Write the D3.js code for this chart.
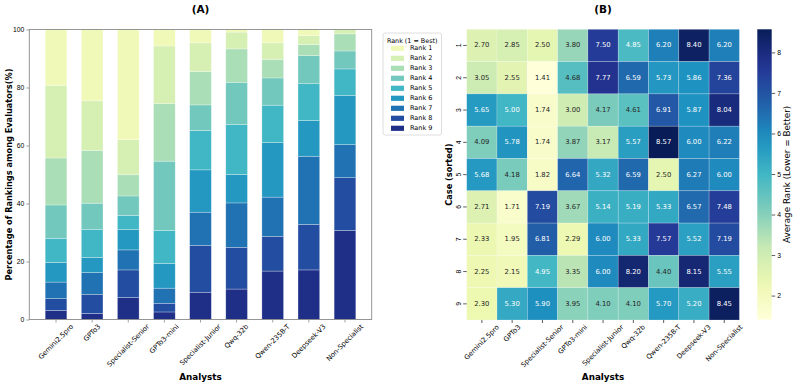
<!DOCTYPE html>
<html>
<head>
<meta charset="utf-8">
<script src="https://cdn.jsdelivr.net/npm/d3@7"></script>
<style>
  html, body { margin: 0; padding: 0; background: #fff; }
  svg { display: block; font-family: "DejaVu Sans", sans-serif; }
</style>
</head>
<body>
<svg id="chart" width="793" height="385"></svg>
<script>
// data
var analysts = ["Gemini2.5pro", "GPTo3", "Specialist-Senior", "GPTo3-mini", "Specialist-Junior",
                "Qwq-32b", "Qwen-235B-T", "Deepseek-V3", "Non-Specialist"];
var ranks = ["Rank 1", "Rank 2", "Rank 3", "Rank 4", "Rank 5", "Rank 6", "Rank 7", "Rank 8", "Rank 9"];
var cases = ["1", "2", "3", "4", "5", "6", "7", "8", "9"];

// (A) share (%) of each rank per analyst, Rank 1 .. Rank 9
var rankShares = [
  [19.3, 25.0, 16.2, 11.5,  8.3,  6.8,  5.7,  4.1,  3.1],
  [24.6, 17.1, 18.2,  9.0,  9.7,  5.2,  7.5,  6.6,  2.1],
  [38.0, 12.1,  7.3,  6.7,  4.9,  7.0,  6.9,  9.5,  7.6],
  [ 5.7, 19.9, 19.8, 23.9, 11.4,  8.5,  5.2,  3.0,  2.6],
  [ 4.6,  9.9, 11.5,  8.8, 13.6, 14.6, 11.4, 16.2,  9.4],
  [ 0.9,  5.8, 11.5, 14.6, 17.2,  9.8, 15.3, 14.4, 10.5],
  [ 4.6,  5.7,  6.4,  9.4, 12.9, 18.8, 13.5, 12.0, 16.7],
  [ 2.1,  3.1,  3.8,  9.7, 12.7, 12.3, 23.5, 15.7, 17.1],
  [ 0.0,  1.5,  5.9,  6.2,  9.2, 16.9, 11.4, 18.2, 30.7]
];
var pctTicks = [0, 20, 40, 60, 80, 100];

// (B) average rank, rows = case, cols = analyst
var avgRank = [
  [2.70, 2.85, 2.50, 3.80, 7.50, 4.85, 6.20, 8.40, 6.20],
  [3.05, 2.55, 1.41, 4.68, 7.77, 6.59, 5.73, 5.86, 7.36],
  [5.65, 5.00, 1.74, 3.00, 4.17, 4.61, 6.91, 5.87, 8.04],
  [4.09, 5.78, 1.74, 3.87, 3.17, 5.57, 8.57, 6.00, 6.22],
  [5.68, 4.18, 1.82, 6.64, 5.32, 6.59, 2.50, 6.27, 6.00],
  [2.71, 1.71, 7.19, 3.67, 5.14, 5.19, 5.33, 6.57, 7.48],
  [2.33, 1.95, 6.81, 2.29, 6.00, 5.33, 7.57, 5.52, 7.19],
  [2.25, 2.15, 4.95, 3.35, 6.00, 8.20, 4.40, 8.15, 5.55],
  [2.30, 5.30, 5.90, 3.95, 4.10, 4.10, 5.70, 5.20, 8.45]
];
var cbarTicks = [2, 3, 4, 5, 6, 7, 8];

(function () {
  "use strict";
  var svg = d3.select("#chart");
  var TICK_FS = 6.8, LABEL_FS = 8.8;
  var ylgnbu = d3.piecewise(d3.interpolateRgb, d3.schemeYlGnBu[9]);

  // label under a tick, rotated 45deg, bbox centred on the tick (matplotlib ha=center)
  function diagLabel(g, cx, top, txt) {
    var t = g.append("text").attr("font-size", TICK_FS).attr("fill", "#000")
      .attr("text-anchor", "middle").attr("dominant-baseline", "central").text(txt);
    var L = t.node().getComputedTextLength(), h = TICK_FS * 1.1;
    var half = (L + h) * Math.SQRT1_2 / 2;
    t.attr("transform", "translate(" + cx + "," + (top + half) + ") rotate(-45)");
  }

  // ---------- (A) stacked bars ----------
  var A = { l: 29.3, r: 371.7, t: 29.5, b: 319.5 };
  var x = d3.scaleBand().domain(analysts).range([A.l, A.r]).paddingInner(0.4).paddingOuter(0.44);
  var y = d3.scaleLinear().domain([0, 100]).range([A.b, A.t]);
  var rankColor = d3.scaleOrdinal().domain(ranks)
    .range(ranks.map(function (r, i) { return ylgnbu(0.1 + 0.1 * i); }));

  var rows = analysts.map(function (a, i) {
    var o = { analyst: a };
    ranks.forEach(function (r, k) { o[r] = rankShares[i][k]; });
    return o;
  });
  var stacked = d3.stack().keys(ranks.slice().reverse())(rows);   // Rank 9 at the bottom

  var gA = svg.append("g");
  gA.selectAll("g.layer").data(stacked).enter().append("g").attr("class", "layer")
    .attr("fill", function (s) { return rankColor(s.key); })
    .selectAll("rect").data(function (s) { return s; }).enter().append("rect")
    .attr("x", function (d) { return x(d.data.analyst); })
    .attr("width", x.bandwidth())
    .attr("y", function (d) { return y(d[1]); })
    .attr("height", function (d) { return Math.max(0, y(d[0]) - y(d[1])); })
    .attr("stroke", "#fff").attr("stroke-opacity", 0.45).attr("stroke-width", 0.6);

  gA.append("rect").attr("x", A.l).attr("y", A.t).attr("width", A.r - A.l).attr("height", A.b - A.t)
    .attr("fill", "none").attr("stroke", "#8a8a8a").attr("stroke-width", 0.9);

  var yAx = gA.append("g").attr("transform", "translate(" + A.l + ",0)")
    .call(d3.axisLeft(y).tickValues(pctTicks).tickSize(3).tickPadding(2));
  var xAx = gA.append("g").attr("transform", "translate(0," + A.b + ")")
    .call(d3.axisBottom(x).tickSize(3).tickFormat(""));
  [yAx, xAx].forEach(function (ax) {
    ax.select(".domain").remove();
    ax.selectAll("line").attr("stroke", "#8a8a8a").attr("stroke-width", 0.8);
    ax.selectAll("text").attr("font-size", TICK_FS).attr("fill", "#000").attr("font-family", null);
  });
  analysts.forEach(function (a) { diagLabel(gA, x(a) + x.bandwidth() / 2, A.b + 3.5, a); });

  gA.append("text").attr("x", (A.l + A.r) / 2).attr("y", 380).attr("text-anchor", "middle")
    .attr("font-size", LABEL_FS).attr("font-weight", "bold").text("Analysts");
  gA.append("text").attr("transform", "translate(8.5," + (A.t + A.b) / 2 + ") rotate(-90)")
    .attr("text-anchor", "middle").attr("dominant-baseline", "central")
    .attr("font-size", 8.2).attr("font-weight", "bold").text("Percentage of Rankings among Evaluators(%)");
  gA.append("text").attr("x", (A.l + A.r) / 2).attr("y", 13).attr("text-anchor", "middle")
    .attr("font-size", 10.5).attr("font-weight", "bold").text("(A)");

  // legend
  var lg = svg.append("g").attr("transform", "translate(383,33)");
  lg.append("rect").attr("width", 58.5).attr("height", 102).attr("rx", 2)
    .attr("fill", "#fff").attr("fill-opacity", 0.8).attr("stroke", "#d6d6d6").attr("stroke-width", 0.8);
  lg.append("text").attr("x", 29.2).attr("y", 7.5).attr("text-anchor", "middle").attr("dominant-baseline", "central")
    .attr("font-size", 6.4).text("Rank (1 = Best)");
  var item = lg.selectAll("g.item").data(ranks).enter().append("g").attr("class", "item")
    .attr("transform", function (r, i) { return "translate(0," + (15.3 + i * 10) + ")"; });
  item.append("rect").attr("x", 8).attr("y", -2.6).attr("width", 13).attr("height", 5.2)
    .attr("fill", function (r) { return rankColor(r); });
  item.append("text").attr("x", 27).attr("y", 0).attr("dominant-baseline", "central")
    .attr("font-size", 6.5).text(function (r) { return r; });

  // ---------- (B) heatmap ----------
  var B = { l: 466.7, r: 739.4, t: 29.3, b: 320 };
  var hx = d3.scaleBand().domain(analysts).range([B.l, B.r]);
  var hy = d3.scaleBand().domain(cases).range([B.t, B.b]);
  var vmin = d3.min(avgRank, function (r) { return d3.min(r); });
  var vmax = d3.max(avgRank, function (r) { return d3.max(r); });
  var color = d3.scaleSequential(ylgnbu).domain([vmin, vmax]);

  function lum(c) {
    var rgb = d3.rgb(c);
    var ch = [rgb.r, rgb.g, rgb.b].map(function (v) {
      v /= 255; return v <= 0.03928 ? v / 12.92 : Math.pow((v + 0.055) / 1.055, 2.4);
    });
    return 0.2126 * ch[0] + 0.7152 * ch[1] + 0.0722 * ch[2];
  }

  var cells = [];
  avgRank.forEach(function (row, i) {
    row.forEach(function (v, j) { cells.push({ c: cases[i], a: analysts[j], v: v }); });
  });
  var gB = svg.append("g");
  gB.selectAll("rect.cell").data(cells).enter().append("rect").attr("class", "cell")
    .attr("x", function (d) { return hx(d.a); }).attr("y", function (d) { return hy(d.c); })
    .attr("width", hx.bandwidth()).attr("height", hy.bandwidth())
    .attr("fill", function (d) { return color(d.v); })
    .attr("stroke", "#fff").attr("stroke-opacity", 0.35).attr("stroke-width", 0.6);
  gB.selectAll("text.ann").data(cells).enter().append("text").attr("class", "ann")
    .attr("x", function (d) { return hx(d.a) + hx.bandwidth() / 2; })
    .attr("y", function (d) { return hy(d.c) + hy.bandwidth() / 2; })
    .attr("text-anchor", "middle").attr("dominant-baseline", "central").attr("font-size", 6.8)
    .attr("fill", function (d) { return lum(color(d.v)) > 0.408 ? "#262626" : "#fff"; })
    .text(function (d) { return d.v.toFixed(2); });

  var hyAx = gB.append("g").attr("transform", "translate(" + B.l + ",0)")
    .call(d3.axisLeft(hy).tickSize(3.5).tickPadding(2));
  var hxAx = gB.append("g").attr("transform", "translate(0," + B.b + ")")
    .call(d3.axisBottom(hx).tickSize(3).tickFormat(""));
  [hyAx, hxAx].forEach(function (ax) {
    ax.select(".domain").remove();
    ax.selectAll("line").attr("stroke", "#333").attr("stroke-width", 0.8);
    ax.selectAll("text").attr("font-size", TICK_FS).attr("fill", "#000").attr("font-family", null);
  });
  hyAx.selectAll("text").attr("x", null).attr("dy", null).attr("text-anchor", "middle")
    .attr("dominant-baseline", "central")
    .attr("transform", function () { return "translate(-8.5,0) rotate(-90)"; });
  analysts.forEach(function (a) { diagLabel(gB, hx(a) + hx.bandwidth() / 2, B.b + 3.5, a); });

  gB.append("text").attr("x", (B.l + B.r) / 2).attr("y", 380).attr("text-anchor", "middle")
    .attr("font-size", LABEL_FS).attr("font-weight", "bold").text("Analysts");
  gB.append("text").attr("transform", "translate(449," + (B.t + B.b) / 2 + ") rotate(-90)")
    .attr("text-anchor", "middle").attr("dominant-baseline", "central")
    .attr("font-size", 8.2).attr("font-weight", "bold").text("Case (sorted)");
  gB.append("text").attr("x", (B.l + B.r) / 2).attr("y", 13).attr("text-anchor", "middle")
    .attr("font-size", 10.5).attr("font-weight", "bold").text("(B)");

  // colorbar
  var C = { l: 757.3, r: 771.7, t: 29.3, b: 319.5 };
  var cy = d3.scaleLinear().domain([vmin, vmax]).range([C.b, C.t]);
  var grad = svg.append("defs").append("linearGradient").attr("id", "cbar")
    .attr("x1", 0).attr("y1", 1).attr("x2", 0).attr("y2", 0);
  d3.range(0, 1.0001, 0.05).forEach(function (t) {
    grad.append("stop").attr("offset", t).attr("stop-color", ylgnbu(t));
  });
  svg.append("rect").attr("x", C.l).attr("y", C.t).attr("width", C.r - C.l).attr("height", C.b - C.t)
    .attr("fill", "url(#cbar)");
  var cAx = svg.append("g").attr("transform", "translate(" + C.r + ",0)")
    .call(d3.axisRight(cy).tickValues(cbarTicks).tickSize(3.5).tickPadding(2).tickFormat(d3.format("d")));
  cAx.select(".domain").remove();
  cAx.selectAll("line").attr("stroke", "#333").attr("stroke-width", 0.8);
  cAx.selectAll("text").attr("font-size", TICK_FS).attr("fill", "#000").attr("font-family", null);
  svg.append("text").attr("transform", "translate(787," + (C.t + C.b) / 2 + ") rotate(-90)")
    .attr("text-anchor", "middle").attr("dominant-baseline", "central")
    .attr("font-size", 8.8).text("Average Rank (Lower = Better)");
})();
</script>
</body>
</html>
